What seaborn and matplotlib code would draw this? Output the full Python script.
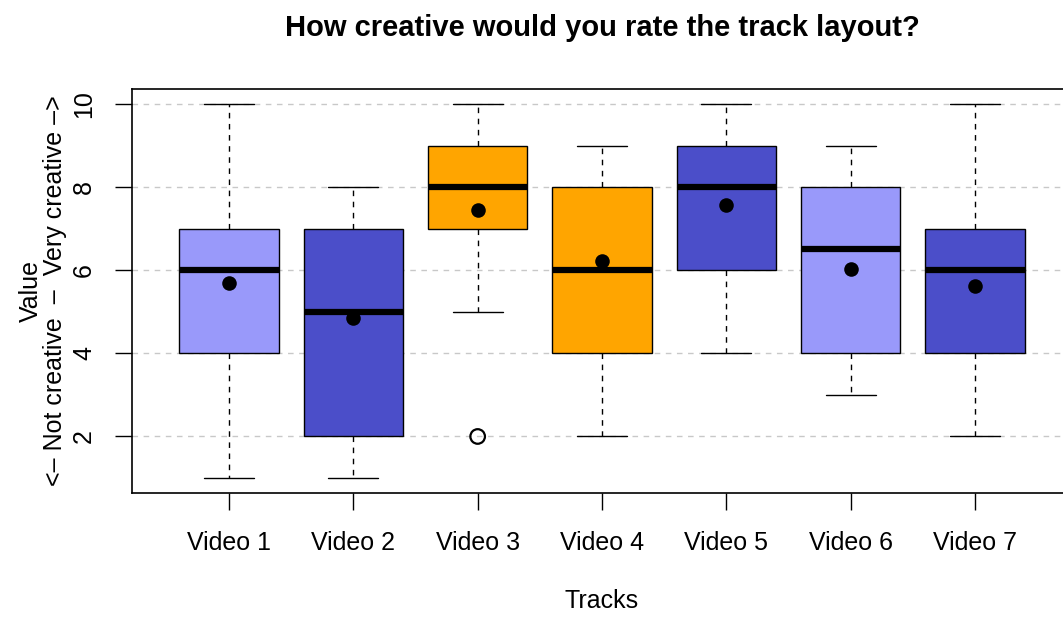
import matplotlib
matplotlib.use("Agg")
import matplotlib.pyplot as plt
import seaborn as sns
import pandas as pd

sns.set_theme(style="white")
plt.rcParams['font.family'] = ['Liberation Sans', 'DejaVu Sans']

videos = ["Video 1", "Video 2", "Video 3", "Video 4", "Video 5", "Video 6", "Video 7"]
whisker_low = [1, 1, 5, 2, 4, 3, 2]
q1 = [4, 2, 7, 4, 6, 4, 4]
medians = [6, 5, 8, 6, 8, 6.5, 6]
q3 = [7, 7, 9, 8, 9, 8, 7]
whisker_high = [10, 8, 10, 9, 10, 9, 10]
means = [5.7, 4.85, 7.45, 6.22, 7.57, 6.02, 5.61]
outliers = [[], [], [2], [], [], [], []]
colors = ["#9999FA", "#4B4EC9", "#FFA500", "#FFA500", "#4B4EC9", "#9999FA", "#4B4EC9"]

fig = plt.figure(figsize=(10.63, 6.17), dpi=100)
ax = fig.add_axes([132/1063, 1 - 493/617, 940/1063, 404/617])

positions = list(range(1, len(videos) + 1))
stats = []
for i in range(len(videos)):
    stats.append(dict(med=medians[i], q1=q1[i], q3=q3[i],
                      whislo=whisker_low[i], whishi=whisker_high[i],
                      fliers=[], label=videos[i]))

ax.set_axisbelow(True)
ax.yaxis.grid(True, linestyle=(0, (4, 4)), color="#C8C8C8", linewidth=1.0)
ax.xaxis.grid(False)

bp = ax.bxp(stats, positions=positions, widths=0.8, patch_artist=True,
            showfliers=False,
            boxprops=dict(edgecolor="black", linewidth=1.0),
            medianprops=dict(color="black", linewidth=4.5, solid_capstyle="butt"),
            whiskerprops=dict(color="black", linewidth=1.0, linestyle=(0, (4, 4))),
            capprops=dict(color="black", linewidth=1.0),
            capwidths=0.4)
for patch, c in zip(bp["boxes"], colors):
    patch.set_facecolor(c)

mean_df = pd.DataFrame({"pos": positions, "mean": means})
sns.scatterplot(data=mean_df, x="pos", y="mean", ax=ax, color="black",
                s=110, edgecolor="black", linewidth=0, zorder=5, legend=False)

out_x, out_y = [], []
for p, outs in zip(positions, outliers):
    for o in outs:
        out_x.append(p)
        out_y.append(o)
out_df = pd.DataFrame({"pos": out_x, "val": out_y})
sns.scatterplot(data=out_df, x="pos", y="val", ax=ax, facecolor="none",
                edgecolor="black", s=110, linewidth=1.6, zorder=5, legend=False)

ax.set_xlim(0.22, 7.78)
ax.set_ylim(0.64, 10.36)
ax.set_xticks(positions)
ax.set_xticklabels(videos, fontsize=18)
ax.set_yticks([2, 4, 6, 8, 10])
ax.set_yticklabels(["2", "4", "6", "8", "10"], fontsize=18, rotation=90, va="center")
ax.tick_params(axis="both", which="both", direction="out", length=12, width=1,
               color="black", bottom=True, left=True, labelcolor="black")
ax.tick_params(axis="x", pad=15)
ax.tick_params(axis="y", pad=14)

for side in ["left", "right", "top", "bottom"]:
    ax.spines[side].set_visible(True)
    ax.spines[side].set_color("black")
    ax.spines[side].set_linewidth(1.2)

ax.set_xlabel("Tracks", fontsize=18, labelpad=25, color="black")
ax.set_ylabel("Value\n<\u2013 Not creative  \u2013  Very creative \u2013>", fontsize=18,
              color="black", linespacing=1.0)
ax.yaxis.set_label_coords(-0.069, 0.5)
ax.set_title("How creative would you rate the track layout?", fontsize=21,
             fontweight="bold", color="black", pad=38)

fig.savefig("out.png", dpi=100)
